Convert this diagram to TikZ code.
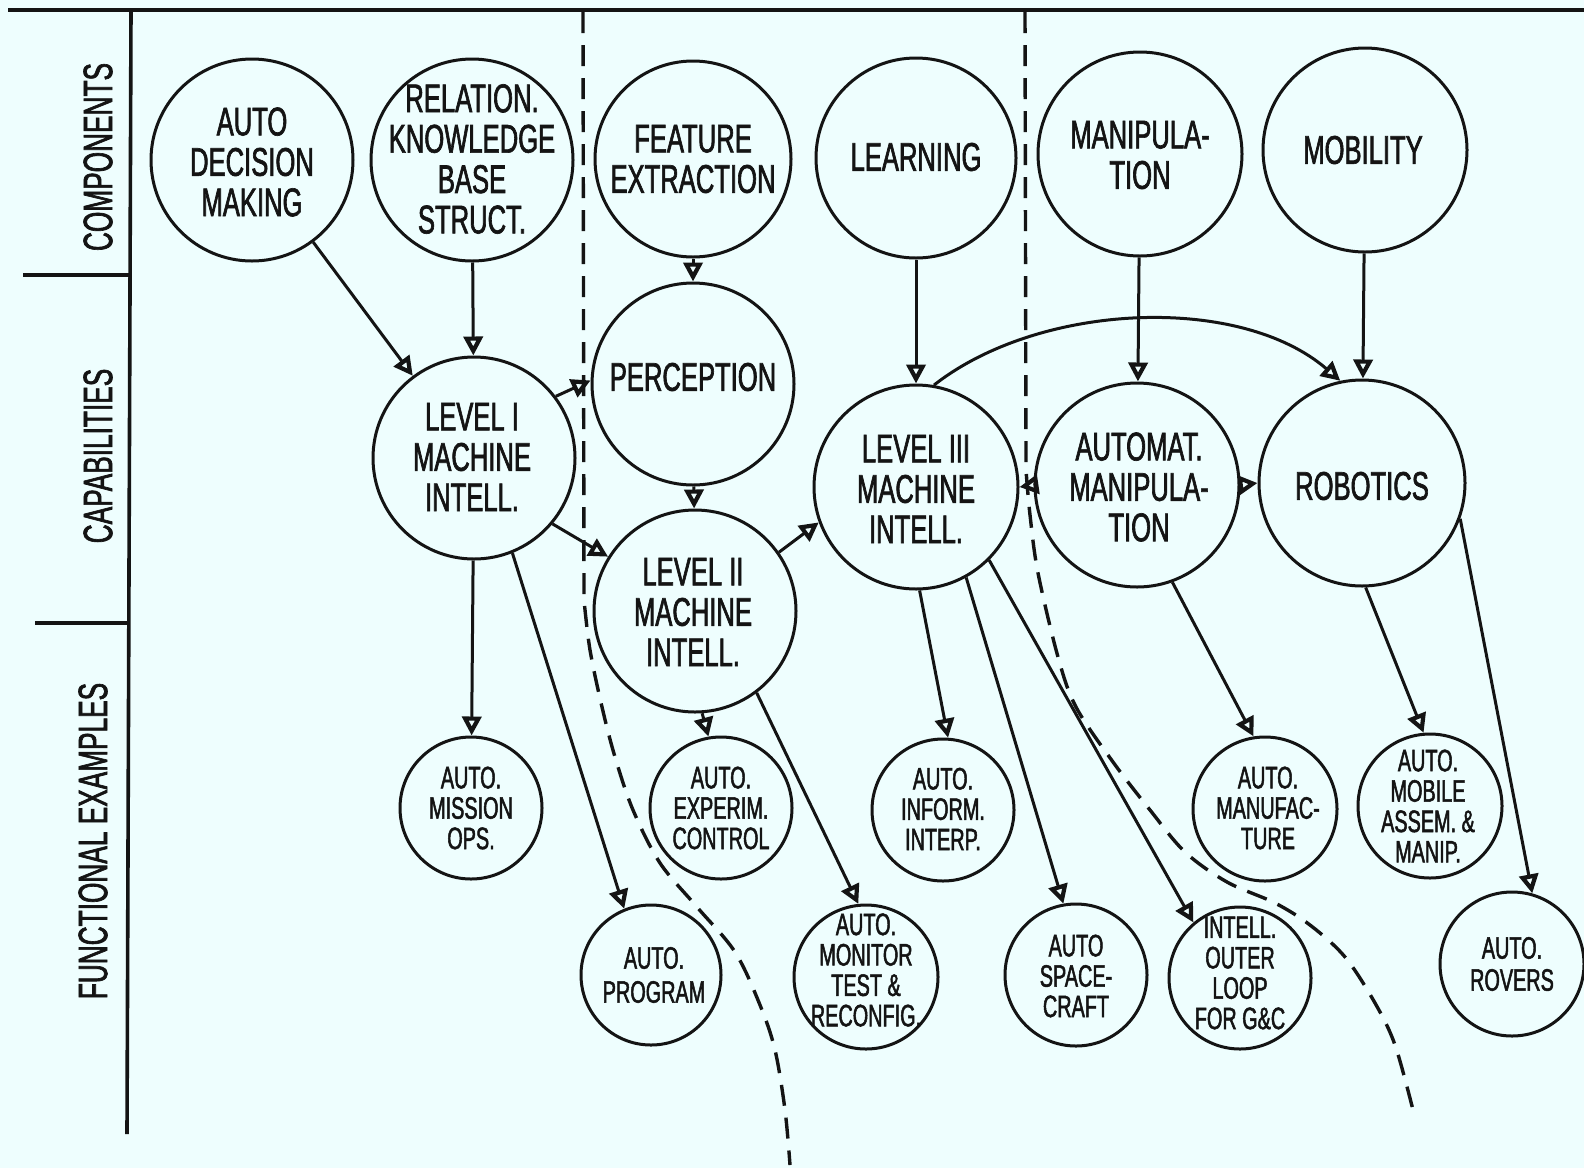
\documentclass[tikz,border=0pt]{standalone}
\usepackage{fontspec}
\newfontfamily\cond[FakeStretch=0.64,FakeBold=1.6]{Liberation Sans}
\usetikzlibrary{arrows.meta}
\definecolor{paper}{RGB}{238,254,254}
\definecolor{ink}{RGB}{20,20,20}

\begin{document}
\begin{tikzpicture}[x=0.5pt,y=-0.5pt,
  ring/.style={circle,draw=ink,line width=1.5pt,inner sep=0pt,minimum size=101pt},
  sring/.style={ring,minimum size=71pt},
  bigtxt/.style={font=\cond\fontsize{20}{20.2}\selectfont,align=center,text=ink,inner sep=0pt},
  smalltxt/.style={font=\cond\fontsize{15.5}{15.2}\selectfont,align=center,text=ink,inner sep=0pt},
  side/.style={font=\cond\fontsize{20.5}{20}\selectfont,rotate=90,text=ink,inner sep=0pt},
  frame/.style={draw=ink,line width=1.8pt},
  conn/.style={draw=ink,line width=1.5pt,-{Triangle[open,length=9.5pt,width=9.5pt,line width=2.1pt]}},
  divider/.style={draw=ink,line width=1.7pt,dash pattern=on 10.5pt off 6pt}]

\path[use as bounding box,fill=paper] (0,0) rectangle (1584,1168);

% frame and row labels
\draw[frame] (8,10) -- (1584,10);
\draw[frame] (131,10) -- (127,1134);
\draw[frame] (23,275) -- (130,275);
\draw[frame] (35,623) -- (129,623);
\node[side] (lab-comp) at (98,157) {COMPONENTS};
\node[side] (lab-cap) at (98,456) {CAPABILITIES};
\node[side] (lab-fun) at (93,841) {FUNCTIONAL EXAMPLES};

% dashed dividers
\draw[divider] (583,12) -- plot[smooth,tension=0.55] coordinates
  {(584,600) (590,650) (602,707) (615,757) (633,810) (660,863) (697,907)
   (735,952) (760,1005) (775,1050) (785,1110) (790,1165)};
\draw[divider] (1025,12) -- plot[smooth,tension=0.55] coordinates
  {(1026,470) (1030,515) (1038,573) (1058,657) (1076,707) (1113,762)
   (1150,810) (1185,852) (1227,882) (1275,903) (1310,925) (1345,957)
   (1375,1003) (1395,1045) (1413,1110)};

% components
\node[ring] (dec) at (252,160) {};
\node[bigtxt] (dec-t) at (252,162) {AUTO\\DECISION\\MAKING};
\node[ring] (rel) at (472,160) {};
\node[bigtxt] (rel-t) at (472,159) {RELATION.\\KNOWLEDGE\\BASE\\STRUCT.};
\node[ring,minimum size=98pt] (feat) at (693,159) {};
\node[bigtxt] (feat-t) at (693,159) {FEATURE\\EXTRACTION};
\node[ring,minimum size=100pt] (learn) at (916,158) {};
\node[bigtxt] (learn-t) at (916,157) {LEARNING};
\node[ring,minimum size=102pt] (manip) at (1140,154) {};
\node[bigtxt] (manip-t) at (1140,155) {MANIPULA-\\TION};
\node[ring,minimum size=102pt] (mob) at (1365,150) {};
\node[bigtxt] (mob-t) at (1363,150) {MOBILITY};

% capabilities
\node[ring] (lvl1) at (474,458) {};
\node[bigtxt] (lvl1-t) at (472,457) {LEVEL I\\MACHINE\\INTELL.};
\node[ring] (perc) at (693,384) {};
\node[bigtxt] (perc-t) at (693,377) {PERCEPTION};
\node[ring] (lvl2) at (695,611) {};
\node[bigtxt] (lvl2-t) at (693,612) {LEVEL II\\MACHINE\\INTELL.};
\node[ring,minimum size=102pt] (lvl3) at (916,487) {};
\node[bigtxt] (lvl3-t) at (916,489) {LEVEL III\\MACHINE\\INTELL.};
\node[ring,minimum size=102pt] (autom) at (1137,485) {};
\node[bigtxt] (autom-t) at (1139,487) {AUTOMAT.\\MANIPULA-\\TION};
\node[ring,minimum size=103pt] (robot) at (1362,483) {};
\node[bigtxt] (robot-t) at (1362,486) {ROBOTICS};

% functional examples
\node[sring] (mission) at (471,808) {};
\node[smalltxt] (mission-t) at (471,808) {AUTO.\\MISSION\\OPS.};
\node[sring] (experim) at (721,808) {};
\node[smalltxt] (experim-t) at (721,808) {AUTO.\\EXPERIM.\\CONTROL};
\node[sring] (inform) at (943,810) {};
\node[smalltxt] (inform-t) at (943,809) {AUTO.\\INFORM.\\INTERP.};
\node[sring,minimum size=72pt] (manuf) at (1265,809) {};
\node[smalltxt] (manuf-t) at (1268,808) {AUTO.\\MANUFAC-\\TURE};
\node[sring,minimum size=72pt] (mobile) at (1430,806) {};
\node[smalltxt] (mobile-t) at (1428,806) {AUTO.\\MOBILE\\ASSEM. \&\\MANIP.};
\node[sring,minimum size=70pt] (program) at (651,975) {};
\node[smalltxt,font=\cond\fontsize{15.5}{17}\selectfont] (program-t) at (654,975) {AUTO.\\PROGRAM};
\node[sring,minimum size=72pt] (monitor) at (866,977) {};
\node[smalltxt] (monitor-t) at (866,970) {AUTO.\\MONITOR\\TEST \&\\RECONFIG.};
\node[sring] (space) at (1076,975) {};
\node[smalltxt] (space-t) at (1076,976) {AUTO\\SPACE-\\CRAFT};
\node[sring] (outer) at (1240,978) {};
\node[smalltxt] (outer-t) at (1240,973) {INTELL.\\OUTER\\LOOP\\FOR G\&C};
\node[sring,minimum size=72pt] (rovers) at (1512,964) {};
\node[smalltxt,font=\cond\fontsize{15.5}{16}\selectfont] (rovers-t) at (1512,964) {AUTO.\\ROVERS};

% connectors between rows
\draw[conn] (dec) -- (lvl1);
\draw[conn] (rel) -- (lvl1);
\draw[conn] (feat) -- (perc);
\draw[conn] (lvl1.37) -- (perc.178);
\draw[conn] (perc) -- (lvl2);
\draw[conn] (lvl1.-40) -- (lvl2.148);
\draw[conn] (lvl2.35) -- (lvl3.200);
\draw[conn] (learn) -- (lvl3);
\draw[conn] (manip) -- (autom);
\draw[conn] (mob) -- (robot);
\draw[conn] (lvl3.80) .. controls (1040,302) and (1240,294) .. (robot.102);
\draw[conn] (autom.180) -- (lvl3.0);
\draw[conn] (autom.0) -- (robot.180);

% connectors to functional examples
\draw[conn] (lvl1) -- (mission);
\draw[conn] (lvl1.-68) -- (program.112);
\draw[conn] (lvl2.-86) -- (experim.100);
\draw[conn] (lvl2.-53) -- (monitor.96);
\draw[conn] (lvl3.-88) -- (inform.86);
\draw[conn] (lvl3.-61) -- (space.100);
\draw[conn] (lvl3.-45) -- (outer.130);
\draw[conn] (autom.-70) -- (manuf.99);
\draw[conn] (robot.-88) -- (mobile.95);
\draw[conn] (robot.-20) -- (rovers.74);
\end{tikzpicture}
\end{document}
